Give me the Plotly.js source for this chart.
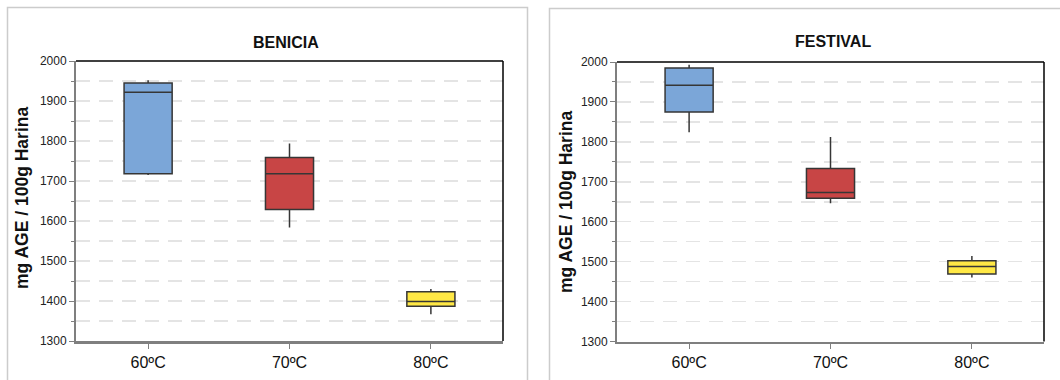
<!DOCTYPE html>
<html>
<head>
<meta charset="utf-8">
<script src="https://cdn.plot.ly/plotly-3.0.1.min.js"></script>
<style>html,body{margin:0;padding:0;background:#fff;}#chart{width:1060px;height:380px;}</style>
</head>
<body>
<div id="chart"></div>
<script>
// ---- Data ----
const categories = ['60ºC', '70ºC', '80ºC'];
const boxColors = ['#7BA6D8', '#C84545', '#FFE845'];

const beniciaLower  = [1715, 1584, 1367];
const beniciaQ1     = [1718, 1629, 1387];
const beniciaMedian = [1922, 1718, 1399];
const beniciaQ3     = [1945, 1759, 1423];
const beniciaUpper  = [1952, 1794, 1430];

const festivalLower  = [1824, 1646, 1460];
const festivalQ1     = [1875, 1659, 1469];
const festivalMedian = [1942, 1673, 1488];
const festivalQ3     = [1985, 1733, 1502];
const festivalUpper  = [1993, 1812, 1514];

const panelTitles = ['BENICIA', 'FESTIVAL'];
const yTitle = 'mg AGE / 100g Harina';

// ---- Build traces ----
function boxes(lower, q1, med, q3, upper, xa, ya) {
  return categories.map((c, i) => ({
    type: 'box',
    x: [c],
    lowerfence: [lower[i]],
    q1: [q1[i]],
    median: [med[i]],
    q3: [q3[i]],
    upperfence: [upper[i]],
    width: 0.34,
    whiskerwidth: 0,
    fillcolor: boxColors[i],
    line: {color: '#363636', width: 1.5},
    boxpoints: false,
    hoverinfo: 'skip',
    showlegend: false,
    xaxis: xa,
    yaxis: ya
  }));
}

const traces = [
  ...boxes(beniciaLower, beniciaQ1, beniciaMedian, beniciaQ3, beniciaUpper, 'x', 'y'),
  ...boxes(festivalLower, festivalQ1, festivalMedian, festivalQ3, festivalUpper, 'x2', 'y2')
];

const W = 1060, H = 380;
const font = 'Liberation Sans, Arial, sans-serif';

function xAxis(domain) {
  return {
    domain: domain,
    type: 'category',
    range: [-0.51, 2.51],
    showline: true, linecolor: '#7f7f7f', linewidth: 2.5,
    ticks: 'outside', ticklen: 5, tickcolor: '#7f7f7f', tickwidth: 1,
    tickfont: {family: font, size: 16, color: '#111'},
    showgrid: false, zeroline: false, fixedrange: true
  };
}
function yAxis(domain, anchor) {
  return {
    domain: domain,
    anchor: anchor,
    range: [1300, 2000],
    dtick: 100, tick0: 1300,
    showline: true, linecolor: '#7f7f7f', linewidth: 2,
    ticks: 'outside', ticklen: 5, tickcolor: '#7f7f7f', tickwidth: 1,
    tickfont: {family: font, size: 12, color: '#222'},
    showgrid: true, gridcolor: '#e4e4e4', gridwidth: 1.5, griddash: '14px,9px',
    minor: {dtick: 50, ticks: 'outside', ticklen: 3, tickcolor: '#7f7f7f',
            showgrid: true, gridcolor: '#e4e4e4', gridwidth: 1.5, griddash: '14px,9px'},
    zeroline: false, fixedrange: true
  };
}

const xd1 = [76 / W, 503 / W], yd1 = [(H - 341) / H, (H - 61) / H];
const xd2 = [617 / W, 1044 / W], yd2 = [(H - 341.5) / H, (H - 62) / H];

const layout = {
  width: W, height: H, autosize: false,
  margin: {l: 0, r: 0, t: 0, b: 0, pad: 0},
  paper_bgcolor: '#fff', plot_bgcolor: '#fff',
  showlegend: false,
  xaxis: Object.assign(xAxis(xd1), {anchor: 'y'}),
  yaxis: yAxis(yd1, 'x'),
  xaxis2: Object.assign(xAxis(xd2), {anchor: 'y2'}),
  yaxis2: yAxis(yd2, 'x2'),
  shapes: [
    // panel frames
    {type: 'rect', xref: 'paper', yref: 'paper', x0: 7.5 / W, x1: 527.5 / W, y0: -0.1, y1: (H - 7.5) / H,
     line: {color: '#cccccc', width: 1.5}, fillcolor: 'rgba(0,0,0,0)', layer: 'below'},
    {type: 'rect', xref: 'paper', yref: 'paper', x0: 549.5 / W, x1: 1.1, y0: -0.1, y1: (H - 8.5) / H,
     line: {color: '#cccccc', width: 1.5}, fillcolor: 'rgba(0,0,0,0)', layer: 'below'},
    // top and right black frame lines
    {type: 'line', xref: 'x domain', yref: 'y domain', x0: 0, x1: 1, y0: 1, y1: 1, line: {color: '#000', width: 1.5}},
    {type: 'line', xref: 'x domain', yref: 'y domain', x0: 1, x1: 1, y0: 0, y1: 1, line: {color: '#000', width: 1.5}},
    {type: 'line', xref: 'x2 domain', yref: 'y2 domain', x0: 0, x1: 1, y0: 1, y1: 1, line: {color: '#000', width: 1.5}},
    {type: 'line', xref: 'x2 domain', yref: 'y2 domain', x0: 1, x1: 1, y0: 0, y1: 1, line: {color: '#000', width: 1.5}}
  ],
  annotations: [
    {text: '<b>' + panelTitles[0] + '</b>', xref: 'paper', yref: 'paper', x: 285.5 / W, y: (H - 42.5) / H,
     showarrow: false, xanchor: 'center', yanchor: 'middle', font: {family: font, size: 16, color: '#111'}},
    {text: '<b>' + panelTitles[1] + '</b>', xref: 'paper', yref: 'paper', x: 832.5 / W, y: (H - 41) / H,
     showarrow: false, xanchor: 'center', yanchor: 'middle', font: {family: font, size: 16, color: '#111'}},
    {text: '<b>' + yTitle + '</b>', xref: 'paper', yref: 'paper', x: 21.5 / W, y: (H - 198.5) / H,
     showarrow: false, textangle: -90, xanchor: 'center', yanchor: 'middle', font: {family: font, size: 17.5, color: '#111'}},
    {text: '<b>' + yTitle + '</b>', xref: 'paper', yref: 'paper', x: 565.5 / W, y: (H - 202.5) / H,
     showarrow: false, textangle: -90, xanchor: 'center', yanchor: 'middle', font: {family: font, size: 17.5, color: '#111'}}
  ]
};

Plotly.newPlot('chart', traces, layout, {displayModeBar: false, staticPlot: true});
</script>
</body>
</html>
